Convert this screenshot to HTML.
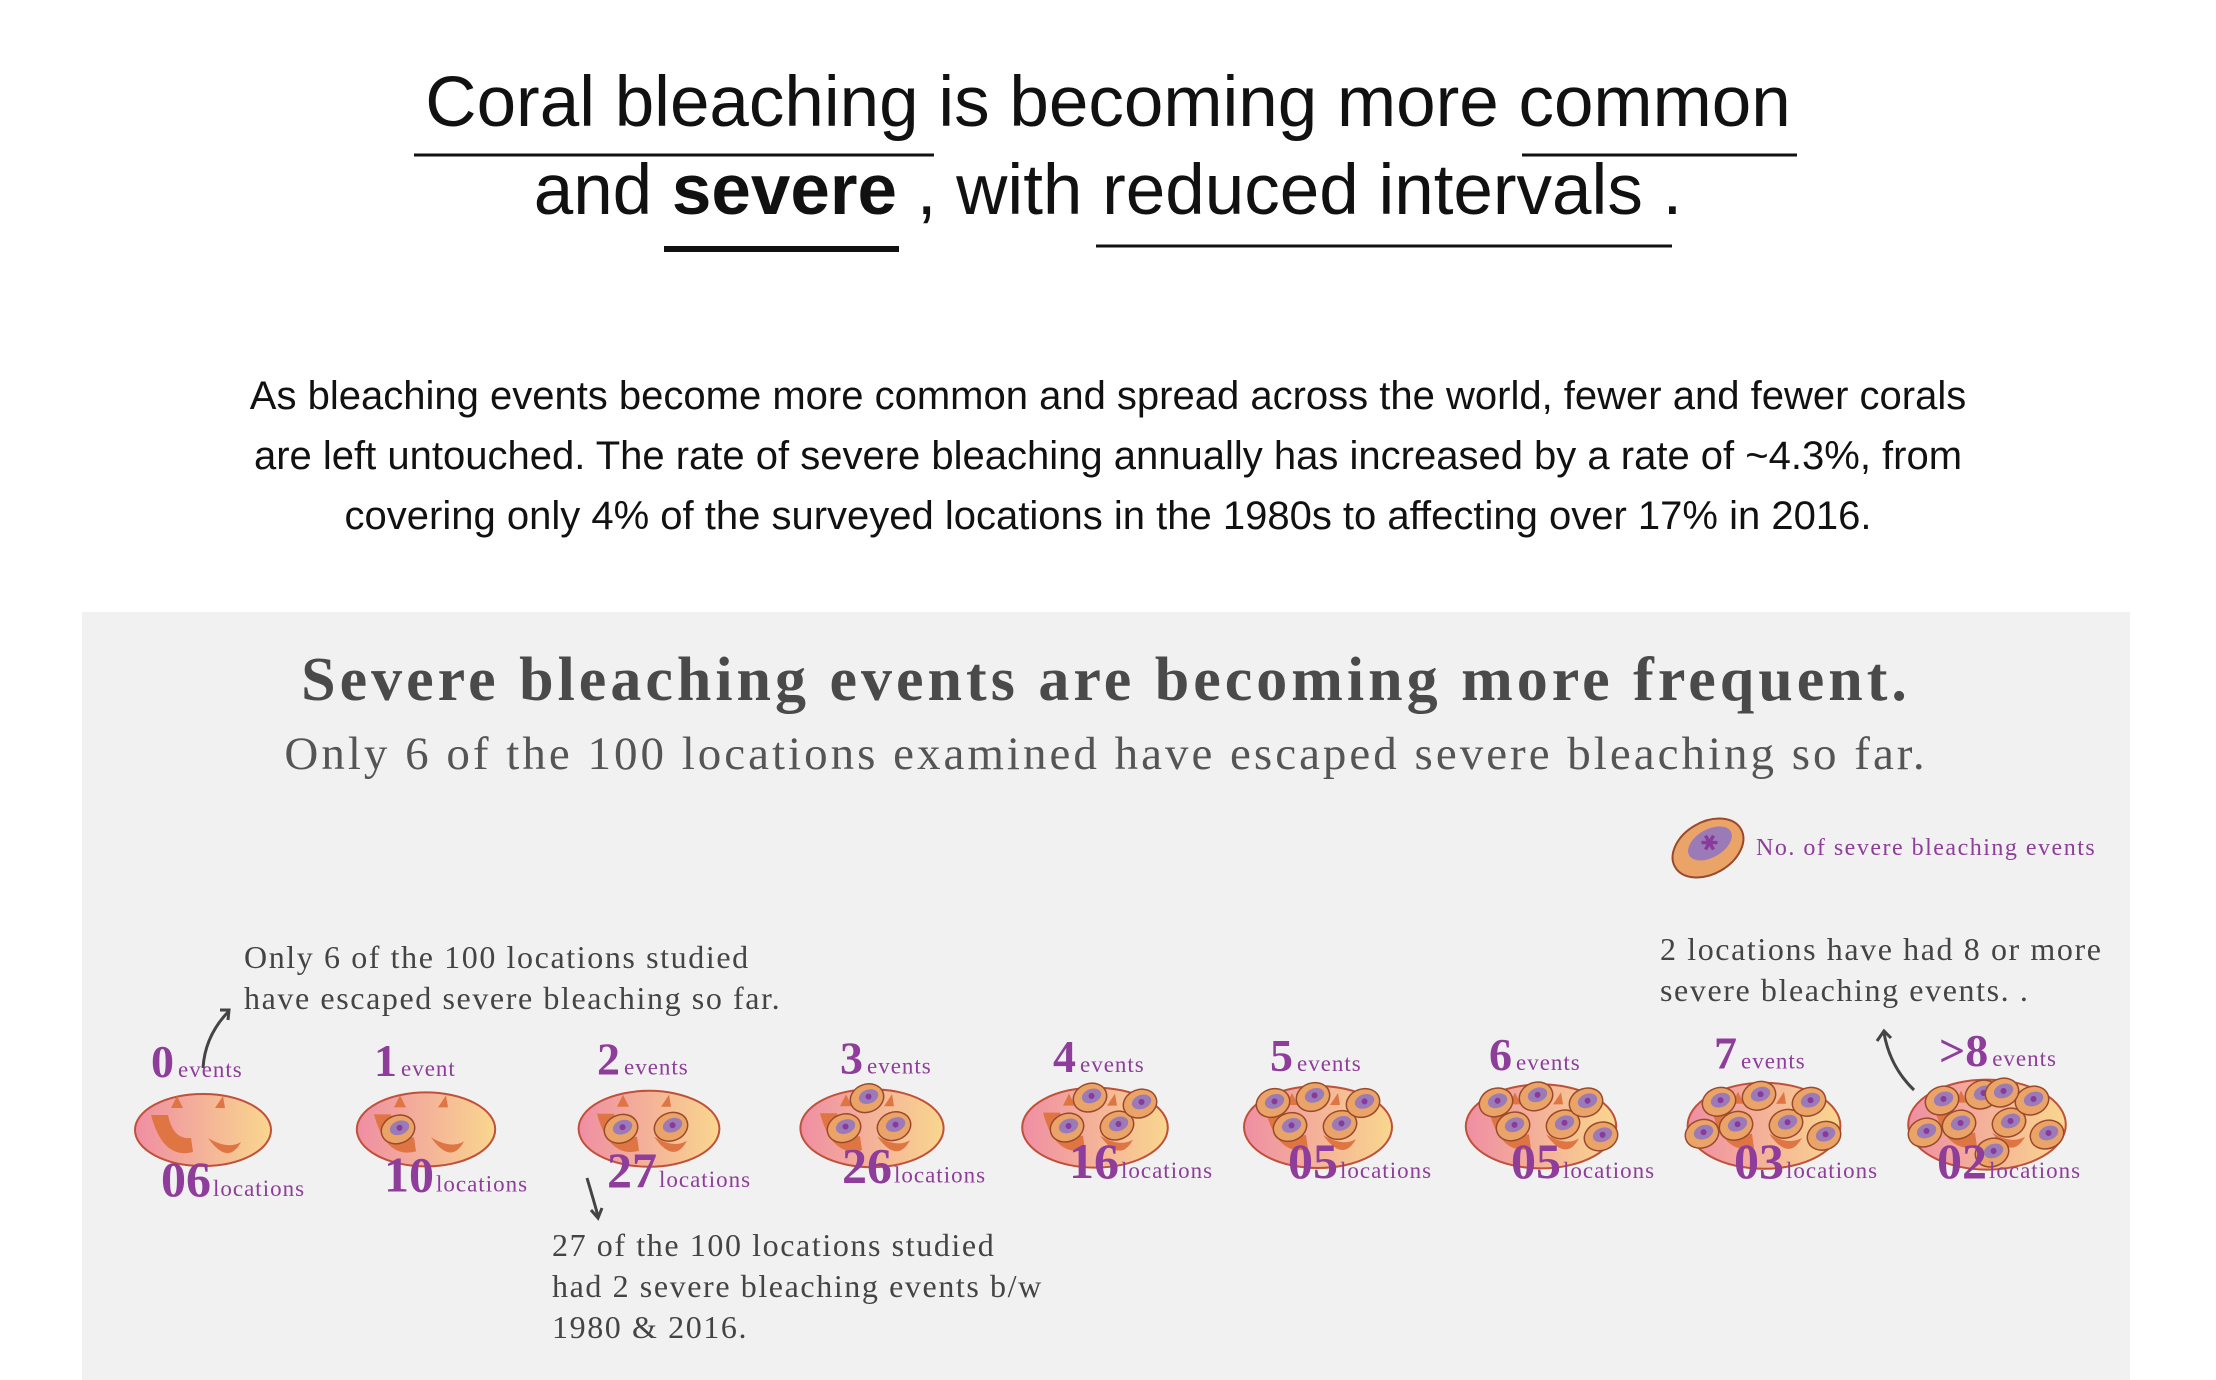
<!DOCTYPE html>
<html><head><meta charset="utf-8"><style>
html,body{margin:0;padding:0;background:#fff;}
svg{display:block;}
.t{font-family:"Liberation Sans",sans-serif;fill:#111;}
.s{font-family:"Liberation Serif",serif;}
</style></head><body>
<svg id="root" width="2216" height="1380" viewBox="0 0 2216 1380" xmlns="http://www.w3.org/2000/svg">
<defs>
<linearGradient id="cg" x1="0" x2="1" y1="0" y2="0"><stop offset="0" stop-color="#ef8ea3"/><stop offset="1" stop-color="#f9d78e"/></linearGradient>
</defs>
<g>
<text class="t" x="1108" y="126" font-size="71" text-anchor="middle">Coral bleaching is becoming more common</text>
<text class="t" x="1108" y="214" font-size="71" text-anchor="middle">and <tspan font-weight="bold">severe</tspan> , with reduced intervals .</text>
<line x1="414" y1="155" x2="934" y2="155" stroke="#111" stroke-width="3"/>
<line x1="1522" y1="155" x2="1797" y2="155" stroke="#111" stroke-width="3"/>
<line x1="664" y1="249" x2="899" y2="249" stroke="#111" stroke-width="6"/>
<line x1="1096" y1="246" x2="1672" y2="246" stroke="#111" stroke-width="3"/>
</g>
<g class="t" font-size="40" text-anchor="middle">
<text x="1108" y="409">As bleaching events become more common and spread across the world, fewer and fewer corals</text>
<text x="1108" y="469">are left untouched. The rate of severe bleaching annually has increased by a rate of ~4.3%, from</text>
<text x="1108" y="529">covering only 4% of the surveyed locations in the 1980s to affecting over 17% in 2016.</text>
</g>
<rect x="82" y="612" width="2048" height="768" fill="#f1f1f1"/>
<text class="s" x="1106" y="700" font-size="62" font-weight="bold" fill="#4a4a4a" text-anchor="middle" letter-spacing="4">Severe bleaching events are becoming more frequent.</text>
<text class="s" x="1106" y="769" font-size="47" fill="#555" text-anchor="middle" letter-spacing="3">Only 6 of the 100 locations examined have escaped severe bleaching so far.</text>
<g>
<g transform="translate(1708,848) rotate(-30)">
<ellipse rx="38" ry="26" fill="#eba467" stroke="#9a4a2a" stroke-width="2"/>
<ellipse cx="4" cy="-3" rx="24" ry="14" fill="#9a7bb8"/>
<text x="4" y="4" font-size="22" fill="#8a3a9a" text-anchor="middle">✱</text>
</g>
<text class="s" x="1756" y="855" font-size="24" fill="#8e3d9a" letter-spacing="1.5">No. of severe bleaching events</text>
</g>
<g class="s" font-size="32" fill="#444" letter-spacing="1.6">
<text x="244" y="968">Only 6 of the 100 locations studied</text>
<text x="244" y="1009">have escaped severe bleaching so far.</text>
<text x="552" y="1256">27 of the 100 locations studied</text>
<text x="552" y="1297">had 2 severe bleaching events b/w</text>
<text x="552" y="1338">1980 &amp; 2016.</text>
<text x="1660" y="960">2 locations have had 8 or more</text>
<text x="1660" y="1001">severe bleaching events. .</text>
</g>
<g fill="none" stroke="#444" stroke-width="3">
<path d="M203 1068 Q205 1036 228 1012"/><path d="M220 1010 L229 1010 L228 1020"/>
<path d="M587 1178 Q593 1198 598 1216"/><path d="M591 1210 L598 1218 L602 1208"/>
<path d="M1914 1090 Q1890 1067 1884 1033"/><path d="M1877 1041 L1884 1031 L1891 1038"/>
</g>
<g id="corals"></g>
</svg>
<script>
const eventLabels = ["0","1","2","3","4","5","6","7",">8"];
const eventWords = ["events","event","events","events","events","events","events","events","events"];
const polypCounts = [0,1,2,3,4,5,6,7,9];
const locationCounts = [6,10,27,26,16,5,5,3,2];

const NS = "http://www.w3.org/2000/svg";
const g = document.getElementById("corals");
const xStart = 203, xStep = 223;
const xScale = i => xStart + i * xStep;
const topOff = [-52,-52,-52,-32,-42,-48,-52,-50,-48];
const botOff = [-42,-42,-42,-30,-26,-30,-30,-30,-50];
const tmpl = [[-28,0],[22,-2],[-5,-30],[45,-24],[-45,-24],[60,10],[-62,8],[15,-32],[5,28]];
function el(tag, attrs, parent){const e=document.createElementNS(NS,tag);for(const k in attrs)e.setAttribute(k,attrs[k]);parent.appendChild(e);return e;}
eventLabels.forEach((lab, i) => {
  const cx = xScale(i), n = polypCounts[i];
  const baseY = 1130 - n * 0.6;
  const rx = 68 + n * 1.2, ry = 36 + n * 1.0;
  const grp = el("g", {}, g);
  
  
  el("ellipse", {cx:cx, cy:baseY, rx:rx, ry:ry, fill:"url(#cg)", stroke:"#c0503a", "stroke-width":2}, grp);
  el("path", {d:`M${cx-52} ${baseY-15} Q${cx-40} ${baseY+30} ${cx-10} ${baseY+22} L${cx-12} ${baseY+8} Q${cx-30} ${baseY+10} ${cx-35} ${baseY-15} Z`, fill:"#e07544"}, grp);
  el("path", {d:`M${cx+5} ${baseY+8} Q${cx+25} ${baseY+36} ${cx+38} ${baseY+12} Q${cx+25} ${baseY+20} ${cx+5} ${baseY+8} Z`, fill:"#e07544"}, grp);
  el("path", {d:`M${cx-32} ${baseY-22} L${cx-26} ${baseY-34} L${cx-20} ${baseY-22} Z M${cx+12} ${baseY-22} L${cx+20} ${baseY-34} L${cx+22} ${baseY-22} Z`, fill:"#e07544"}, grp);
  for (let k = 0; k < n; k++) {
    const px = cx + tmpl[k][0], py = baseY + tmpl[k][1];
    const p = el("g", {transform:`translate(${px},${py}) rotate(-20)`}, grp);
    
    
    el("ellipse", {rx:17, ry:14, fill:"#eba467", stroke:"#9a4a2a", "stroke-width":1.5}, p);
    el("ellipse", {cx:2, cy:-1, rx:10, ry:7, fill:"#9a7bb8"}, p);
    el("circle", {cx:2, cy:-1, r:3, fill:"#8a3a9a"}, p);
  }
  const top = el("text", {x:cx+topOff[i], y:1077 - n*1.2, "font-family":"Liberation Serif, serif", fill:"#8e3d9a"}, g);
  
  
  const t1 = el("tspan", {"font-size":46, "font-weight":"bold"}, top); t1.textContent = lab;
  const t2 = el("tspan", {"font-size":23, dx:4, "letter-spacing":1}, top); t2.textContent = eventWords[i];
  const bot = el("text", {x:cx+botOff[i], y:1196 - Math.min(n,4)*4.5, "font-family":"Liberation Serif, serif", fill:"#8e3d9a"}, g);
  
  
  const b1 = el("tspan", {"font-size":50, "font-weight":"bold"}, bot); b1.textContent = String(locationCounts[i]).padStart(2,"0");
  const b2 = el("tspan", {"font-size":23, dx:2, "letter-spacing":1}, bot); b2.textContent = "locations";
});
</script>
</body></html>
